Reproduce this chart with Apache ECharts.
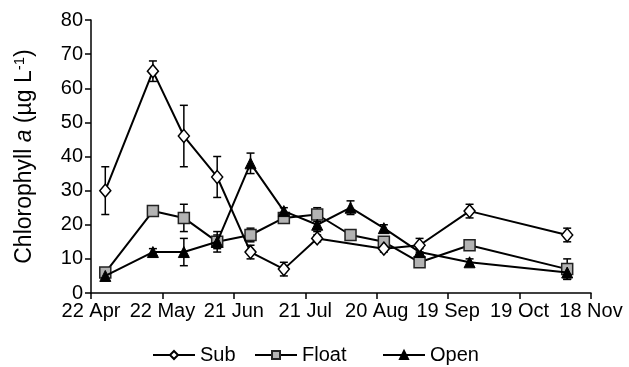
<!DOCTYPE html>
<html><head><meta charset="utf-8">
<script src="https://cdn.jsdelivr.net/npm/echarts@6/dist/echarts.min.js"></script>
<style>html,body{margin:0;padding:0;background:#fff}#c{width:629px;height:367px}</style>
</head><body><div id="c"></div>
<script>
// Day offsets from 22 Apr
const tickLabels = ['22 Apr','22 May','21 Jun','21 Jul','20 Aug','19 Sep','19 Oct','18 Nov'];
const subDays  = [6, 26, 39, 53, 67, 81, 95, 123, 138, 159, 200];
const subVals  = [30, 65, 46, 34, 12, 7, 16, 13, 14, 24, 17];
const subErr   = [7, 3, 9, 6, 2, 2, 1, 1, 2, 2, 2];
const floatDays = [6, 26, 39, 53, 67, 81, 95, 109, 123, 138, 159, 200];
const floatVals = [6, 24, 22, 15, 17, 22, 23, 17, 15, 9, 14, 7];
const floatErr  = [1, 1, 4, 2, 2, 1, 2, 1, 1, 1, 1, 3];
const openDays = [6, 26, 39, 53, 67, 81, 95, 109, 123, 138, 159, 200];
const openVals = [5, 12, 12, 15, 38, 24, 20, 25, 19, 12, 9, 6];
const openErr  = [1, 1, 4, 3, 3, 1, 2, 2, 1, 1, 1, 2];

const FONT = "'Liberation Sans', Arial, sans-serif";
const chart = echarts.init(document.getElementById('c'), null, {renderer:'canvas'});

function pts(d, v){ return d.map((x,i)=>[x, v[i]]); }
function errs(d, v, e){ return d.map((x,i)=>[x, v[i]-e[i], v[i]+e[i]]); }
function errSeries(data){
  return {
    type:'custom', data: data, z: 1, silent:true,
    encode:{x:0, y:[1,2]},
    renderItem: function(params, api){
      const x = api.value(0);
      const lo = api.coord([x, api.value(1)]);
      const hi = api.coord([x, api.value(2)]);
      const w = 4;
      const st = {stroke:'#000', lineWidth:1.5};
      return {type:'group', children:[
        {type:'line', shape:{x1:lo[0], y1:lo[1], x2:hi[0], y2:hi[1]}, style:st},
        {type:'line', shape:{x1:lo[0]-w, y1:lo[1], x2:lo[0]+w, y2:lo[1]}, style:st},
        {type:'line', shape:{x1:hi[0]-w, y1:hi[1], x2:hi[0]+w, y2:hi[1]}, style:st}
      ]};
    }
  };
}
function legend(name, left){
  return {data:[name], left:left, top:345, padding:0, itemWidth:42, itemHeight:10, itemGap:0,
    textStyle:{fontSize:20, color:'#000', fontFamily:FONT}, selectedMode:false};
}

chart.setOption({
  animation:false,
  backgroundColor:'#fff',
  grid:{left:91, right:38, top:20, bottom:74},
  legend:[legend('Sub',152), legend('Float',254), legend('Open',382)],
  xAxis:{type:'value', min:0, max:210, interval:30,
    axisLine:{lineStyle:{color:'#000', width:1.5}},
    axisTick:{show:true, inside:false, length:6, lineStyle:{color:'#000', width:1.5}},
    axisLabel:{color:'#000', fontSize:20, fontFamily:FONT, margin:8,
      formatter: v => tickLabels[Math.round(v/30)]},
    splitLine:{show:false}},
  yAxis:{type:'value', min:0, max:80, interval:10,
    name:'{n|Chlorophyll }{i|a}{n| (µg L}{s|-1}{n|)}',
    nameLocation:'middle', nameGap:54, nameRotate:90,
    nameTextStyle:{color:'#000', fontFamily:FONT, fontSize:23,
      rich:{n:{fontSize:23, fontFamily:FONT, color:'#000'},
            i:{fontSize:23, fontFamily:FONT, color:'#000', fontStyle:'italic'},
            s:{fontSize:15, fontFamily:FONT, color:'#000', padding:[0,0,10,0]}}},
    axisLine:{show:true, lineStyle:{color:'#000', width:1.5}},
    axisTick:{show:true, inside:false, length:6, lineStyle:{color:'#000', width:1.5}},
    axisLabel:{color:'#000', fontSize:20, fontFamily:FONT, margin:8},
    splitLine:{show:false}},
  series:[
    errSeries(errs(subDays, subVals, subErr)),
    errSeries(errs(floatDays, floatVals, floatErr)),
    errSeries(errs(openDays, openVals, openErr)),
    {name:'Float', type:'line', data:pts(floatDays, floatVals), z:3,
      symbol:'rect', symbolSize:11,
      lineStyle:{color:'#000', width:2},
      itemStyle:{color:'#b3b3b3', borderColor:'#222', borderWidth:1.5}},
    {name:'Open', type:'line', data:pts(openDays, openVals), z:4,
      symbol:'triangle', symbolSize:11,
      lineStyle:{color:'#000', width:2},
      itemStyle:{color:'#000', borderColor:'#000', borderWidth:1}},
    {name:'Sub', type:'line', data:pts(subDays, subVals), z:5,
      symbol:'diamond', symbolSize:[11,13],
      lineStyle:{color:'#000', width:2},
      itemStyle:{color:'#fff', borderColor:'#000', borderWidth:1.5}}
  ]
});
</script></body></html>
